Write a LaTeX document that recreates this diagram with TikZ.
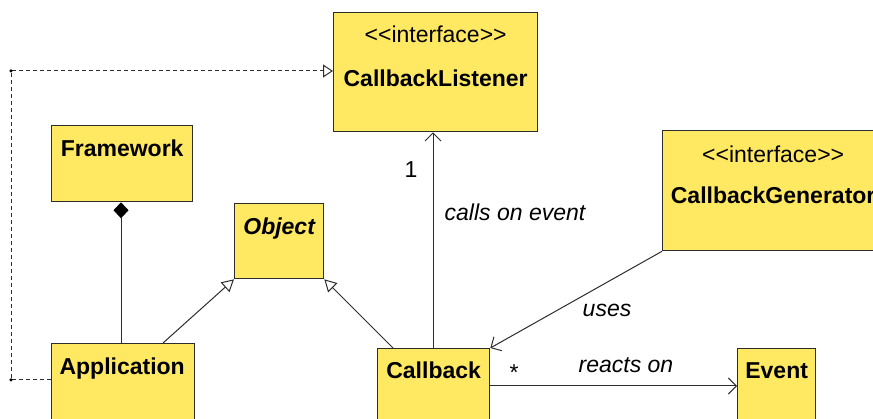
\documentclass[tikz,border=0pt]{standalone}
\usepackage{fontspec}
\setmainfont{Liberation Sans}
\usetikzlibrary{arrows.meta,calc}
\definecolor{uyellow}{RGB}{255,233,98}
\definecolor{uline}{RGB}{45,45,45}
\begin{document}
\begin{tikzpicture}[x=1pt,y=-1pt,
  cls/.style={draw=uline, line width=1.3pt, fill=uyellow, rectangle, inner sep=0pt, anchor=north west},
  cname/.style={font=\fontsize{23}{27}\selectfont\bfseries, inner sep=0pt, anchor=base},
  stereo/.style={font=\fontsize{23}{27}\selectfont, inner sep=0pt, anchor=base},
  lbl/.style={font=\fontsize{23}{27}\selectfont\itshape, inner sep=0pt},
  mult/.style={font=\fontsize{23}{27}\selectfont, inner sep=0pt},
  conn/.style={draw=uline, line width=1pt},
  nav/.style={conn, -{Straight Barb[length=8pt,width=16pt]}},
  gen/.style={conn, -{Triangle[open, length=12pt, width=13pt, fill=white]}},
  real/.style={conn, dash pattern=on 4pt off 3pt, -{Triangle[open, length=10pt, width=13pt, fill=white]}},
  comp/.style={conn, {Diamond[length=16pt, width=15pt, fill=black, color=black]}-},
  cdot/.style={circle, fill=black, inner sep=0pt, minimum size=3.5pt}
]
\clip (0,0) rectangle (873,419);
\fill[white] (0,0) rectangle (873,419);

% boxes
\node[cls, minimum width=204pt, minimum height=119pt] (cl) at (333,12) {};
\node[cls, minimum width=221pt, minimum height=120pt] (cg) at (662,130) {};
\node[cls, minimum width=141pt, minimum height=76pt] (fw) at (51,125) {};
\node[cls, minimum width=89pt, minimum height=75pt] (ob) at (234,203) {};
\node[cls, minimum width=143pt, minimum height=90pt] (app) at (51,343) {};
\node[cls, minimum width=112pt, minimum height=90pt] (cb) at (377,348) {};
\node[cls, minimum width=78pt, minimum height=90pt] (ev) at (737,348) {};

% texts
\node[stereo] (clst) at ($(cl.north)+(0,31)$) {<{}<interface>{}>};
\node[cname] (clt) at ($(cl.north)+(0,75)$) {CallbackListener};
\node[stereo] (cgst) at ($(cg.north)+(0,33)$) {<{}<interface>{}>};
\node[cname] (cgt) at ($(cg.north)+(0,74)$) {CallbackGenerator};
\node[cname] (fwt) at ($(fw.north)+(0,32)$) {Framework};
\node[cname] (obt) at ($(ob.north)+(0,32)$) {\itshape Object};
\node[cname] (appt) at ($(app.north)+(-1,32)$) {Application};
\node[cname] (cbt) at ($(cb.north)+(0,31)$) {Callback};
\node[cname] (evt) at ($(ev.north)+(0,31)$) {Event};

% realization (dotted) Application -> CallbackListener
\coordinate (c1) at (11,380);
\coordinate (c2) at (11,71);
\draw[real] (c1 -| app.west) -- (c1) -- (c2) -- (c2 -| cl.west);
\node[cdot] (d1) at (c1) {};
\node[cdot] (d2) at (c2) {};

% composition Framework <>-- Application
\draw[comp] (fw.south -| 121,0) -- (app.north -| 121,0);

% generalizations
\draw[gen] ($(app.north west)+(112,0)$) -- (ob.south west);
\draw[gen] ($(cb.north west)+(16,0)$) -- (ob.south east);

% Callback -> CallbackListener
\draw[nav] (cb.north -| 433,0) -- (cl.south -| 433,0);
\node[mult] (m1) at (411,170) {1};
\node[lbl] (l1) at (515,212) {calls on event};

% CallbackGenerator -> Callback
\draw[nav] (cg.south west) -- (cb.north east);
\node[lbl] (l2) at (607,310) {uses};

% Callback -> Event
\coordinate (r) at (0,386);
\draw[nav] (r -| cb.east) -- (r -| ev.west);
\node[mult] (m2) at (514,373) {*};
\node[lbl] (l3) at (626,365) {reacts on};
\end{tikzpicture}
\end{document}
